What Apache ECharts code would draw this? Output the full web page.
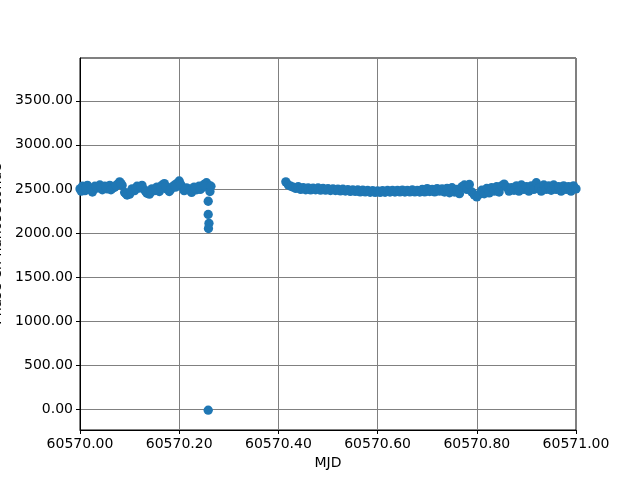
<!DOCTYPE html>
<html><head><meta charset="utf-8">
<script src="https://cdn.jsdelivr.net/npm/echarts@6/dist/echarts.min.js"></script>
<style>html,body{margin:0;padding:0;background:#fff}#c{width:640px;height:480px}</style>
</head><body><div id="c"></div>
<script>
// Segment 1 (before the drop)
const mjd1 = [60570.000,60570.005,60570.010,60570.015,60570.020,60570.025,60570.030,60570.035,60570.040,60570.045,
60570.050,60570.055,60570.060,60570.065,60570.070,60570.075,60570.080,60570.085,60570.090,60570.095,
60570.100,60570.105,60570.110,60570.115,60570.120,60570.125,60570.130,60570.135,60570.140,60570.145,
60570.150,60570.155,60570.160,60570.165,60570.170,60570.175,60570.180,60570.185,60570.190,60570.195,
60570.200,60570.205,60570.210,60570.215,60570.220,60570.225,60570.230,60570.235,60570.240,60570.245,
60570.250,60570.255,60570.260];
const phase1 = [2500,2530,2480,2540,2500,2465,2530,2510,2545,2490,
2530,2500,2540,2505,2520,2550,2580,2540,2460,2430,
2440,2500,2480,2530,2510,2540,2490,2450,2440,2500,
2480,2520,2470,2540,2560,2500,2470,2520,2540,2560,
2590,2530,2480,2510,2500,2460,2520,2490,2530,2510,
2550,2570,2540];
// Extra samples in segment 1 (between the above)
const mjd1b = [60570.0025,60570.0125,60570.0225,60570.0325,60570.0425,60570.0525,60570.0625,60570.0725,60570.0825,60570.0925,
60570.1025,60570.1125,60570.1225,60570.1325,60570.1425,60570.1525,60570.1625,60570.1725,60570.1825,60570.1925,
60570.2025,60570.2125,60570.2225,60570.2325,60570.2425,60570.2525];
const phase1b = [2475,2510,2490,2525,2515,2520,2490,2535,2560,2445,
2470,2505,2525,2470,2465,2495,2510,2530,2490,2520,
2555,2495,2480,2505,2495,2530];
// Drop points
const mjdDrop = [60570.2585,60570.2585,60570.2600,60570.2590,60570.2585,60570.2620,60570.2640];
const phaseDrop = [2360,2210,2110,2050,-10,2470,2530];
// Segment 2 (after the gap)
const mjd2 = [60570.415,60570.420,60570.425,60570.430,60570.435,60570.440,60570.445,60570.450,60570.455,60570.460,
60570.465,60570.470,60570.475,60570.480,60570.485,60570.490,60570.495,60570.500,60570.505,60570.510,
60570.515,60570.520,60570.525,60570.530,60570.535,60570.540,60570.545,60570.550,60570.555,60570.560,
60570.565,60570.570,60570.575,60570.580,60570.585,60570.590,60570.595,60570.600,60570.605,60570.610,
60570.615,60570.620,60570.625,60570.630,60570.635,60570.640,60570.645,60570.650,60570.655,60570.660,
60570.665,60570.670,60570.675,60570.680,60570.685,60570.690,60570.695,60570.700,60570.705,60570.710,
60570.715,60570.720,60570.725,60570.730,60570.735,60570.740,60570.745,60570.750,60570.755,60570.760,
60570.765,60570.770,60570.775,60570.780,60570.785,60570.790,60570.795,60570.800,60570.805,60570.810,
60570.815,60570.820,60570.825,60570.830,60570.835,60570.840,60570.845,60570.850,60570.855,60570.860,
60570.865,60570.870,60570.875,60570.880,60570.885,60570.890,60570.895,60570.900,60570.905,60570.910,
60570.915,60570.920,60570.925,60570.930,60570.935,60570.940,60570.945,60570.950,60570.955,60570.960,
60570.965,60570.970,60570.975,60570.980,60570.985,60570.990,60570.995,60571.000];
const phase2 = [2580,2545,2530,2520,2505,2525,2495,2515,2490,2512,
2488,2508,2490,2510,2486,2506,2486,2502,2482,2500,
2482,2498,2478,2496,2476,2492,2472,2490,2472,2488,
2466,2486,2466,2482,2462,2480,2460,2478,2460,2480,
2462,2482,2464,2484,2464,2484,2466,2486,2464,2484,
2466,2488,2466,2484,2464,2494,2466,2504,2470,2494,
2466,2504,2474,2500,2464,2506,2456,2514,2464,2494,
2446,2525,2545,2495,2550,2465,2430,2410,2440,2485,
2445,2505,2455,2515,2475,2525,2465,2535,2555,2520,
2475,2515,2485,2535,2475,2545,2495,2525,2475,2535,
2495,2570,2505,2475,2545,2495,2535,2485,2545,2495,
2525,2475,2535,2495,2525,2475,2535,2500];
const xTickStep = 0.2;

function pairs(xs, ys){ const out=[]; const n=Math.min(xs.length, ys.length); for(let i=0;i<n;i++) out.push([xs[i], ys[i]]); return out; }
const allData = pairs(mjd1, phase1).concat(pairs(mjd1b, phase1b), pairs(mjdDrop, phaseDrop), pairs(mjd2, phase2));

const font = 'DejaVu Sans';
const chart = echarts.init(document.getElementById('c'), null, {renderer:'canvas'});
chart.setOption({
  animation:false,
  backgroundColor:'#fff',
  grid:{left:80,right:64,top:58,bottom:50,containLabel:false,outerBoundsMode:'none',show:true,borderColor:'#000',borderWidth:1,backgroundColor:'transparent'},
  xAxis:{
    type:'value', min:60570, max:60571, interval:xTickStep,
    name:'MJD', nameLocation:'middle', nameGap:26,
    nameTextStyle:{color:'#000',fontFamily:font,fontSize:14},
    axisLine:{show:true,onZero:false,lineStyle:{color:'#000',width:1}},
    axisTick:{show:true,length:4,lineStyle:{color:'#000'}},
    axisLabel:{margin:7,color:'#000',fontFamily:font,fontSize:14,formatter:v=>v.toFixed(2)},
    splitLine:{show:true,lineStyle:{color:'#808080',width:1}}
  },
  yAxis:{
    type:'value', min:-235, max:3985, splitNumber:8,
    name:'Phase en nanoseconde', nameLocation:'middle', nameGap:70,
    nameTextStyle:{color:'#000',fontFamily:font,fontSize:14},
    axisLine:{show:true,onZero:false,lineStyle:{color:'#000',width:1}},
    axisTick:{show:true,length:4,lineStyle:{color:'#000'}},
    axisLabel:{margin:7,color:'#000',fontFamily:font,fontSize:14,showMinLabel:false,showMaxLabel:false,formatter:v=>v.toFixed(2)},
    splitLine:{show:true,lineStyle:{color:'#808080',width:1}}
  },
  series:[{
    type:'scatter', data:allData, symbol:'circle', symbolSize:9.3, clip:true,
    itemStyle:{color:'#1f77b4',opacity:1}
  }]
});
</script></body></html>
